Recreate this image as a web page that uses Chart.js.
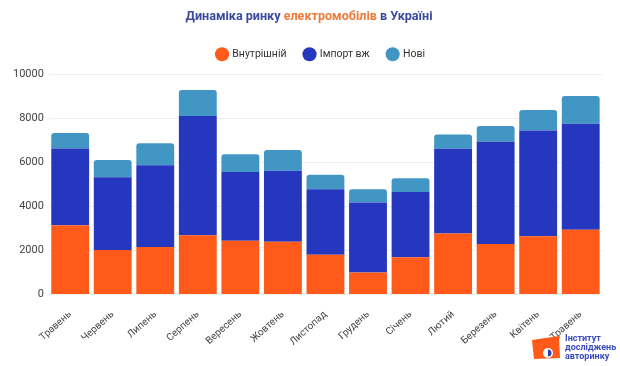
<!DOCTYPE html>
<html>
<head>
<meta charset="utf-8">
<script src="https://cdn.jsdelivr.net/npm/chart.js@4.4.1/dist/chart.umd.min.js"></script>
<style>
  body { margin: 0; background: #fff; }
  #wrap { width: 620px; height: 366px; }
</style>
</head>
<body>
<div id="wrap"><canvas id="marketChart" width="620" height="366"></canvas></div>
<script>
const months = ['Травень', 'Червень', 'Липень', 'Серпень', 'Вересень', 'Жовтень', 'Листопад',
    'Грудень', 'Січень', 'Лютий', 'Березень', 'Квітень', 'Травень'];
const domestic = [3150, 2020, 2160, 2690, 2450, 2400, 1810, 1000, 1690, 2770, 2300, 2650, 2940];
const imported = [3490, 3310, 3720, 5420, 3120, 3230, 2980, 3180, 2970, 3850, 4640, 4800, 4820];
const newCars = [700, 780, 990, 1190, 810, 940, 650, 610, 620, 650, 720, 940, 1260];
const yTicks = [0, 2000, 4000, 6000, 8000, 10000];

// заголовок у кілька кольорів + логотип
const titlePlugin = {
    id: 'titlePlugin',
    beforeInit(chart) {
        // більше місця під легендою
        const origFit = chart.legend.fit;
        chart.legend.fit = function () {
            origFit.bind(chart.legend)();
            this.height += 5;
        };
    },
    afterLayout(chart) {
        chart.legend.left += 16;
        chart.legend.right += 16;
    },
    afterDraw(chart) {
        const c = chart.ctx;
        const parts = [
            ['Динаміка ринку ', '#3b4a9e'],
            ['електромобілів', '#f07a3a'],
            [' в Україні', '#3b4a9e']
        ];
        c.save();
        c.font = 'bold 12.6px Roboto';
        c.textBaseline = 'middle';
        let total = 0;
        parts.forEach(p => total += c.measureText(p[0]).width);
        let x = 309 - total / 2;
        parts.forEach(p => {
            c.fillStyle = p[1];
            c.fillText(p[0], x, 17);
            x += c.measureText(p[0]).width;
        });

        c.fillStyle = '#ff5a1a';
        c.beginPath();
        c.moveTo(532, 340);
        c.lineTo(559, 336);
        c.lineTo(560, 358);
        c.lineTo(534, 359);
        c.closePath();
        c.fill();
        c.fillStyle = '#fff';
        c.beginPath();
        c.arc(548, 353, 5, 0, Math.PI * 2);
        c.fill();
        c.fillStyle = '#3140b0';
        c.beginPath();
        c.moveTo(548, 353);
        c.arc(548, 353, 3.5, -Math.PI / 2, Math.PI / 2);
        c.fill();
        c.fillStyle = '#3a4bc0';
        c.font = 'bold 9px Roboto';
        c.fillText('Інститут', 565, 339);
        c.fillText('досліджень', 565, 348);
        c.fillText('авторинку', 565, 357);
        c.restore();
    }
};

const ctx = document.getElementById('marketChart').getContext('2d');
const marketChart = new Chart(ctx, {
    type: 'bar',
    data: {
        labels: months,
        datasets: [{
            label: 'Внутрішній',
            data: domestic,
            backgroundColor: '#ff5a1a'
        }, {
            label: 'Імпорт вж',
            data: imported,
            backgroundColor: '#2536bf'
        }, {
            label: 'Нові',
            data: newCars,
            backgroundColor: '#4196c4',
            borderRadius: { topLeft: 3, topRight: 3 },
            borderSkipped: 'bottom'
        }]
    },
    options: {
        responsive: false,
        animation: false,
        layout: { padding: { top: 31, left: 8, right: 18, bottom: 12 } },
        datasets: {
            bar: { categoryPercentage: 1, barPercentage: 0.89 }
        },
        scales: {
            x: {
                stacked: true,
                grid: { display: false },
                border: { display: false },
                ticks: {
                    color: '#444',
                    font: { family: 'Roboto', size: 10 },
                    minRotation: 42,
                    maxRotation: 42,
                    padding: 6
                }
            },
            y: {
                stacked: true,
                min: 0,
                max: 10000,
                afterBuildTicks(axis) {
                    axis.ticks = yTicks.map(v => ({ value: v }));
                },
                grid: { color: '#efefef', drawTicks: false },
                border: { display: false },
                ticks: {
                    color: '#444',
                    font: { family: 'Roboto', size: 11 },
                    padding: 5,
                    callback: v => String(v)
                }
            }
        },
        plugins: {
            legend: {
                display: true,
                labels: {
                    usePointStyle: true,
                    pointStyle: 'circle',
                    boxWidth: 10,
                    boxHeight: 10,
                    padding: 18,
                    color: '#333',
                    font: { family: 'Roboto', size: 10.5 }
                }
            },
            tooltip: { enabled: false }
        }
    },
    plugins: [titlePlugin]
});
</script>
</body>
</html>
